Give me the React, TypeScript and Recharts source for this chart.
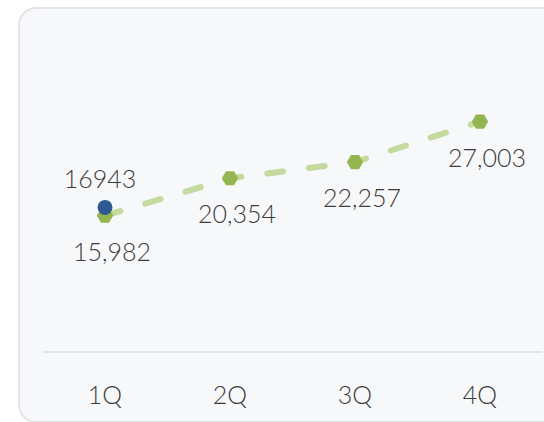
import React from "react";
import { LineChart, Line, XAxis, YAxis, LabelList } from "recharts";

const quarters = ["1Q", "2Q", "3Q", "4Q"];
const actual = [15982, 20354, 22257, 27003];
const target: (number | null)[] = [16943, null, null, null];

const data = quarters.map((q, i) => ({ name: q, actual: actual[i], target: target[i] }));

const FONT = "Lato, 'Noto Sans', sans-serif";
const TEXT = "#3b3b3b";

const HexDot = (props: any) => {
  const { cx, cy } = props;
  if (cx == null || cy == null) return null;
  const r = 7;
  const pts = Array.from({ length: 6 }, (_, k) => {
    const a = (Math.PI / 3) * k;
    return `${cx + r * Math.cos(a)},${cy + r * Math.sin(a)}`;
  }).join(" ");
  return (
    <polygon points={pts} fill="#93b651" stroke="#93b651" strokeWidth={2} strokeLinejoin="round" />
  );
};

const actualLabel = (props: any) => {
  const { x, y, value } = props;
  return (
    <text x={x + 7} y={y + 35} textAnchor="middle" dominantBaseline="central"
      fontFamily={FONT} fontWeight={300} fontSize={25} fill={TEXT}>
      {Number(value).toLocaleString("en-US")}
    </text>
  );
};

const targetLabel = (props: any) => {
  const { x, y, value } = props;
  if (value == null) return null;
  return (
    <text x={x - 5} y={y - 29} textAnchor="middle" dominantBaseline="central"
      fontFamily={FONT} fontWeight={300} fontSize={25} fill={TEXT}>
      {value}
    </text>
  );
};

export default function App() {
  return (
    <div style={{ position: "absolute", left: 0, top: 0, width: 544, height: 422, overflow: "hidden", background: "#fff" }}>
      <div
        style={{
          position: "absolute",
          left: 18,
          top: 7,
          width: 560,
          height: 412,
          border: "2px solid #e2e4e9",
          borderRadius: 18,
          background: "#f7f8fa",
        }}
      />
      <div style={{ position: "absolute", left: 0, top: 0 }}>
        <LineChart width={544} height={422} data={data} margin={{ top: 96, right: 1.5, bottom: 0, left: 42.5 }}>
          <XAxis
            dataKey="name"
            height={70}
            padding={{ left: 62.5, right: 62.5 }}
            axisLine={{ stroke: "#dcdee3", strokeWidth: 1.5 }}
            tickLine={false}
            tickSize={0}
            tickMargin={34}
            tick={{ fontFamily: FONT, fontWeight: 300, fontSize: 25, fill: TEXT }}
          />
          <YAxis hide domain={[0, 30000]} />
          <Line
            dataKey="actual"
            stroke="#c4da9e"
            strokeWidth={6}
            strokeDasharray="16 26"
            strokeLinecap="round"
            dot={<HexDot />}
            activeDot={false}
            isAnimationActive={false}
          >
            <LabelList dataKey="actual" content={actualLabel} />
          </Line>
          <Line
            dataKey="target"
            stroke="none"
            dot={{ r: 7.5, fill: "#2e5b8f", stroke: "none" }}
            activeDot={false}
            isAnimationActive={false}
          >
            <LabelList dataKey="target" content={targetLabel} />
          </Line>
        </LineChart>
      </div>
    </div>
  );
}
